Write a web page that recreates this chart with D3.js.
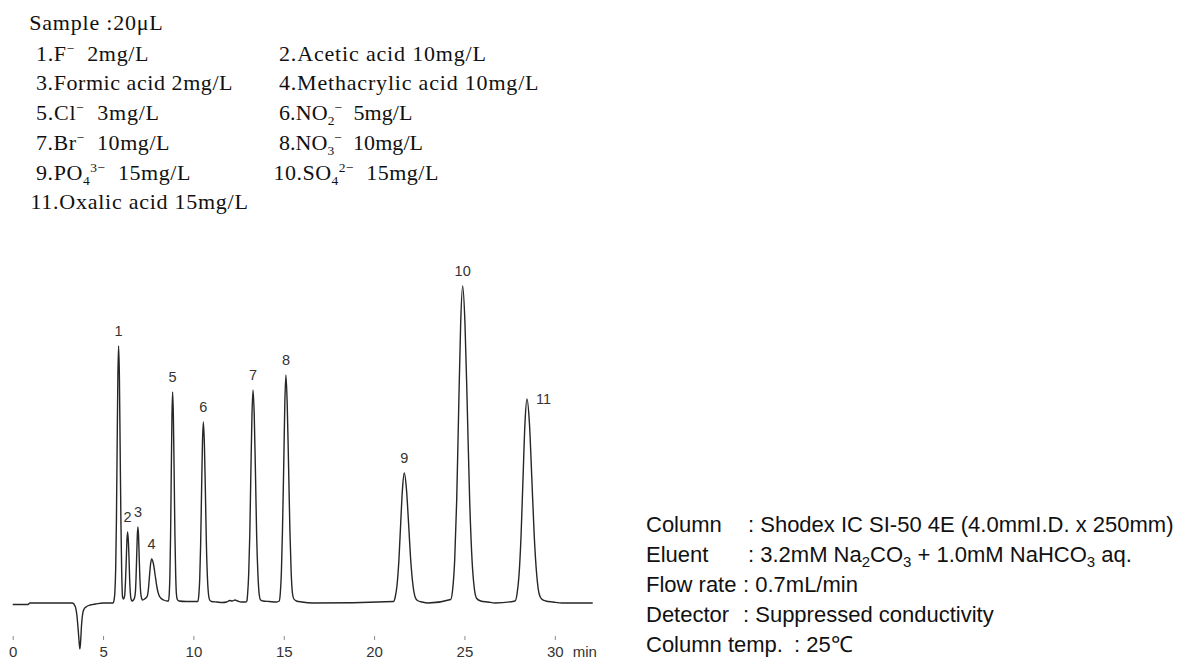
<!DOCTYPE html>
<html>
<head>
<meta charset="utf-8">
<script src="https://cdn.jsdelivr.net/npm/d3@7"></script>
<style>
  html, body { margin: 0; padding: 0; background: #fff; }
  svg { display: block; }
</style>
</head>
<body>
<svg id="chart" width="1184" height="659"></svg>
<script>
// Chromatogram trace: [retention time (min), detector signal (arbitrary units, baseline = 0)]
const trace = [
  [0, -1.5], [0.85, -1.5], [0.95, 0], [3.30, 0], [3.45, -3], [3.55, -12], [3.63, -28], [3.69, -42],
  [3.72, -46], [3.76, -38], [3.81, -22], [3.87, -11], [3.95, -6], [4.10, -3.5], [4.30, -2], [4.60, -1],
  [5.00, 0], [5.56, 0],
  // 1 F-
  [5.61, 3], [5.655, 11], [5.70, 35], [5.74, 82], [5.78, 157], [5.82, 226], [5.86, 257], [5.905, 226],
  [5.945, 157], [5.99, 80], [6.03, 33], [6.08, 6],
  // 2 acetic acid
  [6.14, 4], [6.20, 8], [6.245, 23], [6.285, 43], [6.32, 62], [6.36, 71], [6.40, 62], [6.44, 43],
  [6.47, 25], [6.51, 10], [6.55, 4], [6.61, 2],
  // 3 formic acid
  [6.68, 3], [6.74, 5], [6.79, 11], [6.825, 25], [6.86, 46], [6.895, 67], [6.93, 76], [6.965, 67],
  [7.00, 46], [7.04, 24], [7.08, 11], [7.13, 5], [7.19, 3],
  // 4 methacrylic acid
  [7.30, 4], [7.45, 7], [7.51, 14], [7.57, 27], [7.63, 39], [7.69, 44], [7.79, 39], [7.89, 27],
  [7.99, 15], [8.09, 8], [8.19, 5], [8.35, 3], [8.55, 2],
  // 5 Cl-
  [8.62, 2], [8.6625, 9], [8.70, 28], [8.7375, 68], [8.775, 129], [8.8125, 186], [8.85, 211],
  [8.8925, 186], [8.935, 129], [8.9775, 68], [9.02, 28], [9.06, 9], [9.11, 3.5], [9.20, 2],
  [9.60, 1.5], [10.00, 1.5],
  // 6 NO2-
  [10.25, 1.5], [10.30, 8], [10.35, 24], [10.40, 58], [10.45, 110], [10.50, 159], [10.55, 181],
  [10.6075, 159], [10.665, 110], [10.72, 58], [10.78, 24], [10.84, 8], [10.90, 3], [11.00, 1.5],
  [11.30, 1], [11.60, 0.5], [11.85, 1], [12.00, 2.5], [12.15, 2], [12.30, 3], [12.45, 2], [12.65, 1],
  [12.90, 1],
  // 7 Br-
  [12.96, 2], [13.00, 9], [13.06, 29], [13.12, 68], [13.18, 130], [13.24, 187], [13.30, 213],
  [13.3675, 187], [13.435, 130], [13.50, 68], [13.57, 29], [13.64, 9], [13.72, 3], [13.85, 2],
  [14.20, 1.5], [14.60, 1],
  // 8 NO3-
  [14.75, 2], [14.81, 10], [14.87, 31], [14.93, 73], [15.00, 139], [15.06, 200], [15.12, 228],
  [15.19, 200], [15.265, 139], [15.34, 73], [15.41, 31], [15.48, 10], [15.56, 4], [15.70, 2],
  [16.00, 1], [16.60, 0],
  // 9 PO4 3-
  [21.07, 1.5], [21.17, 6], [21.27, 18], [21.37, 42], [21.47, 79], [21.57, 114], [21.67, 130],
  [21.79, 114], [21.91, 79], [22.03, 42], [22.15, 18], [22.27, 6], [22.40, 2.5], [22.65, 1], [23.00, 0],
  // 10 SO4 2-
  [24.24, 3.5], [24.35, 14], [24.46, 43], [24.57, 102], [24.68, 193], [24.79, 279], [24.90, 317],
  [25.03, 279], [25.16, 193], [25.29, 102], [25.42, 43], [25.55, 14], [25.68, 4.5], [25.90, 2],
  [26.30, 1], [26.70, 0],
  // 11 oxalic acid
  [27.80, 2], [27.91, 9], [28.02, 28], [28.13, 66], [28.24, 124], [28.35, 180], [28.46, 204],
  [28.595, 180], [28.73, 124], [28.865, 66], [29.00, 28], [29.135, 9], [29.27, 4], [29.50, 2],
  [29.90, 1], [30.40, 0], [32.10, 0]
];

// Peak numbers and retention times (min)
const peakNumbers = [1, 2, 3, 4, 5, 6, 7, 8, 9, 10, 11];
const peakTimes = [5.86, 6.36, 6.93, 7.69, 8.85, 10.55, 13.30, 15.12, 21.67, 24.90, 28.46];

// Time axis
const timeTicks = [0, 5, 10, 15, 20, 25, 30];
const timeUnit = "min";

// Sample composition (_{..} subscript, ^{..} superscript)
const sampleVolume = "Sample :20μL";
const analytes = [
  "1.F^{−}  2mg/L",
  "2.Acetic acid 10mg/L",
  "3.Formic acid 2mg/L",
  "4.Methacrylic acid 10mg/L",
  "5.Cl^{−}  3mg/L",
  "6.NO_{2}^{−}  5mg/L",
  "7.Br^{−}  10mg/L",
  "8.NO_{3}^{−}  10mg/L",
  "9.PO_{4}^{3−}  15mg/L",
  "10.SO_{4}^{2−}  15mg/L",
  "11.Oxalic acid 15mg/L"
];

// Operating conditions
const conditionLabels = ["Column", "Eluent", "Flow rate", "Detector", "Column temp."];
const conditionValues = [
  ": Shodex IC SI-50 4E (4.0mmI.D. x 250mm)",
  ": 3.2mM Na_{2}CO_{3} + 1.0mM NaHCO_{3} aq.",
  ": 0.7mL/min",
  ": Suppressed conductivity",
  ": 25℃"
];

const svg = d3.select("#chart");

const x = d3.scaleLinear().domain([0, 30]).range([12.7, 554.8]);
const y = d3.scaleLinear().domain([0, 300]).range([603, 303]);

// Writes a string with _{sub} / ^{sup} markup into a text element as tspans
function richText(textSel, str, opt) {
  const re = /_\{([^}]*)\}|\^\{([^}]*)\}|([^_^]+)/g;
  let m, cur = 0;
  while ((m = re.exec(str)) !== null) {
    let content, shift, size = null;
    if (m[1] !== undefined) { content = m[1]; shift = opt.sub; size = opt.small; }
    else if (m[2] !== undefined) { content = m[2]; shift = -opt.sup; size = opt.small; }
    else { content = m[3]; shift = 0; }
    const t = textSel.append("tspan").attr("dy", shift - cur).text(content);
    if (size) t.style("font-size", size + "px");
    cur = shift;
  }
  return textSel;
}
function plain(str) { return str.replace(/[_^]\{([^}]*)\}/g, "$1"); }

// ---- chromatogram line ----
const line = d3.line()
  .x(d => x(d[0]))
  .y(d => y(d[1]))
  .curve(d3.curveMonotoneX);

svg.append("path")
  .datum(trace)
  .attr("fill", "none")
  .attr("stroke", "#262626")
  .attr("stroke-width", 1.4)
  .attr("stroke-linejoin", "round")
  .attr("d", line);

// ---- peak numbers ----
const sideLabelled = new Set([11]);
const peakLabels = peakNumbers.map((n, i) => {
  const rt = peakTimes[i];
  const near = trace.filter(d => Math.abs(d[0] - rt) <= 0.08);
  const apex = d3.greatest(near, d => d[1]);
  return { n, t: apex[0], v: apex[1] };
});

svg.append("g")
  .attr("font-family", "'Liberation Sans', Arial, sans-serif")
  .attr("font-size", 14.5)
  .attr("fill", "#333")
  .selectAll("text")
  .data(peakLabels)
  .join("text")
  .attr("text-anchor", d => sideLabelled.has(d.n) ? "start" : "middle")
  .attr("x", d => sideLabelled.has(d.n) ? x(d.t) + 9 : x(d.t))
  .attr("y", d => sideLabelled.has(d.n) ? y(d.v) + 5 : y(d.v) - 10)
  .text(d => d.n);

// ---- time axis ----
const axis = d3.axisBottom(x).tickValues(timeTicks).tickSize(4).tickFormat(d3.format("d"));
const gAxis = svg.append("g")
  .attr("transform", "translate(0,636)")
  .call(axis);
gAxis.select(".domain").remove();
gAxis.selectAll(".tick line").attr("stroke", "#8a8a8a");
gAxis.selectAll(".tick text")
  .attr("y", 21).attr("dy", 0)
  .attr("fill", "#333")
  .style("font-family", "'Liberation Sans', Arial, sans-serif")
  .style("font-size", "15px");
svg.append("text")
  .attr("x", x(30) + 18).attr("y", 657)
  .attr("fill", "#333")
  .style("font-family", "'Liberation Sans', Arial, sans-serif")
  .style("font-size", "15px")
  .text(timeUnit);

// ---- sample composition block (half-width character grid) ----
const pitch = 10.5;
const serif = "'Liberation Serif', 'Times New Roman', serif";
const scriptOpt = { sub: 5, sup: 8, small: 13.5 };

function gridText(str, xPos, yPos) {
  const t = svg.append("text")
    .attr("x", xPos).attr("y", yPos)
    .attr("fill", "#111")
    .style("font-family", serif)
    .style("font-size", "22px")
    .style("white-space", "pre");
  richText(t, str, scriptOpt);
  const p = plain(str);
  const chars = [...p];
  const units = chars.length + chars.filter(c => c === "μ").length;
  const natural = t.node().getComputedTextLength();
  const ls = (units * pitch - 3 - natural) / (chars.length - 1);
  t.style("letter-spacing", ls + "px");
  return t;
}

gridText(sampleVolume, 29.3, 29.5);
analytes.forEach((s, i) => {
  const num = s.slice(0, s.indexOf("."));
  const col = i % 2, row = Math.floor(i / 2);
  const x0 = (col === 0 ? 36 : 279) - (num.length - 1) * 5.6;
  gridText(s, x0, 60.5 + row * 29.75);
});

// ---- operating conditions ----
const sans = "'Liberation Sans', Arial, sans-serif";
const colonX = [748, 748, 743, 743, 794];
conditionLabels.forEach((lab, i) => {
  const yy = 531.5 + i * 30;
  svg.append("text")
    .attr("x", 646).attr("y", yy)
    .attr("fill", "#111")
    .style("font-family", sans).style("font-size", "22px")
    .text(lab);
  const t = svg.append("text")
    .attr("x", colonX[i]).attr("y", yy)
    .attr("fill", "#111")
    .style("font-family", sans).style("font-size", "22px");
  richText(t, conditionValues[i], { sub: 5, sup: 7, small: 15 });
});
</script>
</body>
</html>
